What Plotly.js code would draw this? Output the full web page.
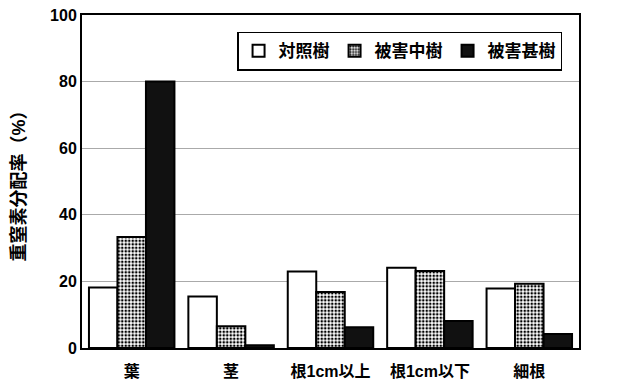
<!DOCTYPE html>
<html><head><meta charset="utf-8">
<script src="https://cdn.plot.ly/plotly-3.0.1.min.js"></script>
<style>body{margin:0;background:#fff}#c{width:629px;height:390px}</style>
</head><body><div id="c"></div>
<script>
const categories = ["葉", "茎", "根1cm以上", "根1cm以下", "細根"];
const seriesNames = ["対照樹", "被害中樹", "被害甚樹"];
const control = [18.2, 15.5, 23.0, 24.1, 17.9];
const moderate = [33.3, 6.5, 16.8, 23.1, 19.3];
const severe = [80.0, 0.8, 6.2, 8.1, 4.2];
const yTicks = [0, 20, 40, 60, 80, 100];

const fontFam = "'Liberation Sans', 'Noto Sans CJK JP', Arial, sans-serif";
const traces = [
  {type:'bar', name:seriesNames[0], x:categories, y:control,
   marker:{color:'#ffffff', line:{color:'#000', width:2}}},
  {type:'bar', name:seriesNames[1], x:categories, y:moderate,
   marker:{color:'#ffffff', pattern:{shape:'.', fgcolor:'#000', bgcolor:'#fff', size:3.5, solidity:0.45}, line:{color:'#000', width:2}}},
  {type:'bar', name:seriesNames[2], x:categories, y:severe,
   marker:{color:'#111111', line:{color:'#000', width:2}}}
];
const layout = {
  width:629, height:390,
  margin:{l:82, r:50, t:15, b:42},
  paper_bgcolor:'#fff', plot_bgcolor:'#fff',
  font:{family:fontFam, size:14, color:'#000'},
  barmode:'group', bargap:0.14, bargroupgap:0,
  showlegend:true,
  legend:{orientation:'h', x:0.312, y:0.95, xanchor:'left', yanchor:'top',
    bordercolor:'#000', borderwidth:1.5, bgcolor:'#fff',
    font:{family:fontFam, size:17, weight:'bold', color:'#000'}, traceorder:'normal', itemwidth:30},
  xaxis:{showline:true, linecolor:'#000', linewidth:2, mirror:true, ticks:'',
    ticklabelstandoff:8,
    tickfont:{family:fontFam, size:16, weight:'bold', color:'#000'}, fixedrange:true},
  yaxis:{range:[0,100], tickvals:yTicks, showline:true, linecolor:'#000', linewidth:2, mirror:true,
    showgrid:true, gridcolor:'#aaaaaa', gridwidth:1, ticks:'', zeroline:false,
    tickfont:{family:fontFam, size:16, weight:'bold', color:'#000'},
    title:{text:'重窒素分配率（%）', font:{family:fontFam, size:18, weight:'bold', color:'#000'}, standoff:20}}
};
Plotly.newPlot('c', traces, layout, {displayModeBar:false, staticPlot:true});
</script></body></html>
